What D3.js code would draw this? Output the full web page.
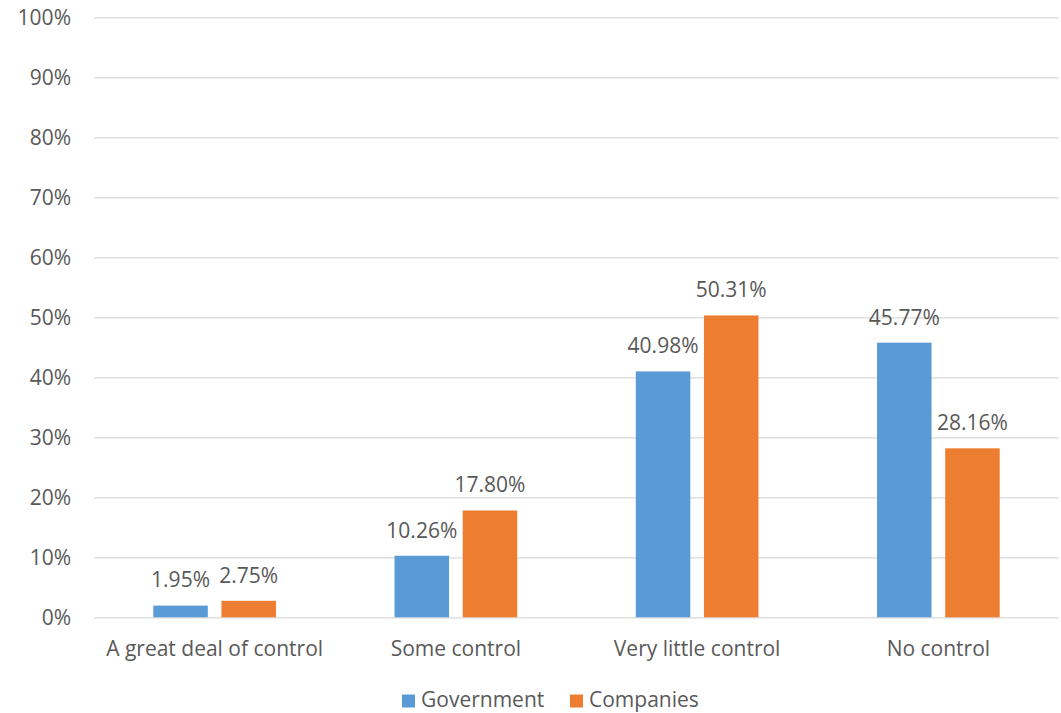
<!DOCTYPE html>
<html><head><meta charset="utf-8">
<script src="https://cdn.jsdelivr.net/npm/d3@7"></script>
<style>body{margin:0;background:#fff}svg text{font-family:"Open Sans",Lato,sans-serif;fill:#595959}</style>
</head><body><svg id="c" width="1061" height="713"></svg>
<script>
const categories = ["A great deal of control","Some control","Very little control","No control"];
const seriesNames = ["Government","Companies"];
const government = [1.95,10.26,40.98,45.77];
const companies = [2.75,17.80,50.31,28.16];
const yTicks = [0,10,20,30,40,50,60,70,80,90,100];
const colors = ["#5b9bd5","#ed7d31"];

const svg = d3.select("#c");
const mLeft = 94, mRight = 1059, mTop = 17.3, mBottom = 617.3;
const x = d3.scaleBand().domain(categories).range([mLeft,mRight]);
const xs = d3.scaleBand().domain(seriesNames).range([0,x.bandwidth()]).paddingInner(0.2).paddingOuter(0.87);
const y = d3.scaleLinear().domain([0,100]).range([mBottom,mTop]);
const fs = 21;

const yAxis = svg.append("g").attr("transform",`translate(${mLeft},0)`)
  .call(d3.axisLeft(y).tickValues(yTicks).tickSize(-(mRight-mLeft)).tickFormat(d=>d+"%").tickPadding(23));
yAxis.select(".domain").remove();
yAxis.selectAll("line").attr("stroke","#d9d9d9").attr("stroke-width",1.3);
yAxis.selectAll("text").style("font-size",fs+"px").attr("fill","#595959");

const xAxis = svg.append("g").attr("transform",`translate(0,${mBottom})`)
  .call(d3.axisBottom(x).tickSize(0).tickPadding(24));
xAxis.select(".domain").remove();
xAxis.selectAll("text").style("font-size",fs+"px").attr("fill","#595959");

const data = [government, companies];
seriesNames.forEach((s,si)=>{
  const g = svg.append("g");
  g.selectAll("rect").data(categories).join("rect")
    .attr("x",c=>x(c)+xs(s)).attr("width",xs.bandwidth())
    .attr("y",(c,i)=>y(data[si][i])).attr("height",(c,i)=>mBottom-y(data[si][i]))
    .attr("fill",colors[si]);
  g.selectAll("text").data(categories).join("text")
    .attr("x",c=>x(c)+xs(s)+xs.bandwidth()/2).attr("y",(c,i)=>y(data[si][i])-25.5)
    .attr("dy","0.35em")
    .attr("text-anchor","middle").style("font-size",fs+"px")
    .text((c,i)=>data[si][i].toFixed(2)+"%");
});

const leg = svg.append("g");
const legX = [402,570];
seriesNames.forEach((s,i)=>{
  leg.append("rect").attr("x",legX[i]).attr("y",694.5).attr("width",13).attr("height",13).attr("fill",colors[i]);
  leg.append("text").attr("x",legX[i]+19).attr("y",700).attr("dy","0.35em").style("font-size",fs+"px").text(s);
});
</script></body></html>
